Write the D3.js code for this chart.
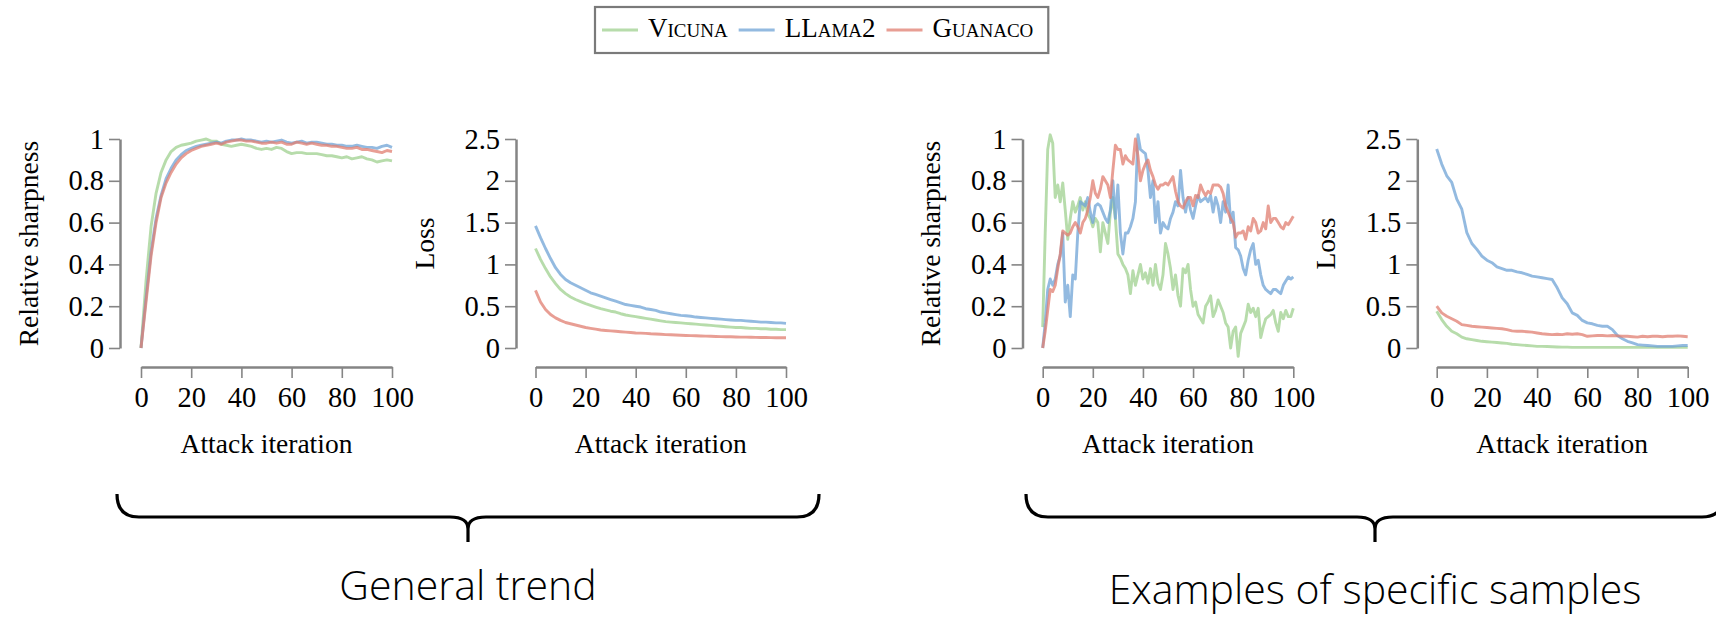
<!DOCTYPE html>
<html>
<head>
<meta charset="utf-8">
<script src="https://cdn.jsdelivr.net/npm/d3@7"></script>
<style>
  html, body { margin: 0; padding: 0; background: #fff; }
  svg { display: block; }
  .tick text { font-family: "Liberation Serif", "DejaVu Serif", serif; font-size: 28.5px; fill: #000; }
  .axis-title { font-family: "Liberation Serif", "DejaVu Serif", serif; font-size: 27.5px; fill: #000; }
  .legend-text { font-family: "Liberation Serif", "DejaVu Serif", serif; font-size: 27px; font-variant: small-caps; fill: #000; }
  .caption { font-family: "Open Sans", "Noto Sans", sans-serif; font-weight: 300; font-size: 41px; fill: #000; }
</style>
</head>
<body>
<svg id="chart" width="1716" height="619"></svg>
<script>
// ---- data ---------------------------------------------------------------
const iterEvery2 = d3.range(0, 101, 2);   // 0, 2, ..., 100
const iterEvery1 = d3.range(0, 101);      // 0, 1, ..., 100

const seriesNames = ["Vicuna", "LLama2", "Guanaco"];
const seriesColors = ["#9fd08f", "#6fa3d6", "#e07d70"];

const sharpTicks = [0, 0.2, 0.4, 0.6, 0.8, 1];
const lossTicks = [0, 0.5, 1, 1.5, 2, 2.5];
const iterTicks = [0, 20, 40, 60, 80, 100];

// General trend: relative sharpness (every 2 iterations)
const trendSharpVicuna = [0, 0.32, 0.58, 0.74, 0.84, 0.90, 0.94, 0.96, 0.97, 0.975, 0.98, 0.99, 0.995, 1.0, 0.99, 0.99,
  0.975, 0.97, 0.965, 0.97, 0.975, 0.97, 0.965, 0.955, 0.95, 0.955, 0.95, 0.96, 0.955, 0.94, 0.93, 0.935, 0.935, 0.93,
  0.93, 0.93, 0.925, 0.92, 0.92, 0.915, 0.91, 0.915, 0.905, 0.91, 0.915, 0.905, 0.90, 0.89, 0.895, 0.90, 0.895];
const trendSharpLlama = [0, 0.24, 0.46, 0.62, 0.73, 0.81, 0.86, 0.90, 0.925, 0.945, 0.955, 0.965, 0.97, 0.975, 0.98, 0.985,
  0.98, 0.99, 0.995, 0.995, 1.0, 0.995, 0.995, 0.99, 0.985, 0.99, 0.985, 0.99, 0.995, 0.985, 0.98, 0.985, 0.99, 0.98,
  0.985, 0.985, 0.98, 0.975, 0.975, 0.97, 0.97, 0.965, 0.965, 0.97, 0.965, 0.96, 0.96, 0.955, 0.965, 0.97, 0.96];
const trendSharpGuanaco = [0, 0.22, 0.44, 0.60, 0.72, 0.79, 0.84, 0.88, 0.91, 0.93, 0.945, 0.955, 0.965, 0.97, 0.975, 0.98,
  0.975, 0.985, 0.99, 0.995, 0.995, 0.99, 0.99, 0.985, 0.98, 0.98, 0.985, 0.98, 0.985, 0.975, 0.975, 0.985, 0.98, 0.975,
  0.98, 0.975, 0.97, 0.97, 0.965, 0.965, 0.96, 0.955, 0.955, 0.96, 0.95, 0.95, 0.945, 0.94, 0.935, 0.945, 0.94];

// General trend: loss (every 2 iterations)
const trendLossVicuna = [1.19, 1.06, 0.95, 0.85, 0.77, 0.70, 0.65, 0.61, 0.58, 0.555, 0.53, 0.51, 0.49, 0.47, 0.455, 0.44,
  0.43, 0.41, 0.395, 0.385, 0.375, 0.365, 0.355, 0.345, 0.335, 0.325, 0.315, 0.31, 0.305, 0.30, 0.295, 0.29, 0.285, 0.28,
  0.275, 0.27, 0.265, 0.26, 0.255, 0.25, 0.245, 0.245, 0.24, 0.235, 0.235, 0.23, 0.23, 0.225, 0.225, 0.22, 0.22];
const trendLossLlama = [1.46, 1.32, 1.19, 1.07, 0.96, 0.88, 0.82, 0.78, 0.75, 0.72, 0.69, 0.66, 0.64, 0.62, 0.60, 0.58,
  0.56, 0.54, 0.52, 0.51, 0.50, 0.49, 0.47, 0.46, 0.45, 0.43, 0.42, 0.41, 0.40, 0.39, 0.385, 0.38, 0.37, 0.365, 0.36,
  0.355, 0.35, 0.345, 0.34, 0.335, 0.33, 0.33, 0.325, 0.32, 0.315, 0.31, 0.31, 0.305, 0.30, 0.30, 0.295];
const trendLossGuanaco = [0.69, 0.55, 0.46, 0.40, 0.36, 0.33, 0.305, 0.29, 0.275, 0.26, 0.245, 0.235, 0.225, 0.215, 0.21,
  0.205, 0.20, 0.195, 0.19, 0.185, 0.18, 0.178, 0.175, 0.17, 0.168, 0.165, 0.16, 0.158, 0.155, 0.152, 0.15, 0.148, 0.146,
  0.144, 0.142, 0.14, 0.138, 0.136, 0.135, 0.134, 0.132, 0.13, 0.13, 0.128, 0.127, 0.126, 0.125, 0.124, 0.123, 0.122, 0.122];

// Specific samples: relative sharpness (every iteration)
const sampleSharpVicuna = [0.10, 0.55, 0.95, 1.02, 0.98, 0.72, 0.78, 0.70, 0.79, 0.66, 0.52, 0.62, 0.70, 0.65, 0.68, 0.72,
  0.66, 0.70, 0.64, 0.62, 0.58, 0.62, 0.60, 0.46, 0.60, 0.55, 0.50, 0.65, 0.72, 0.62, 0.45, 0.43, 0.40, 0.38, 0.35, 0.26,
  0.37, 0.30, 0.35, 0.40, 0.33, 0.36, 0.31, 0.38, 0.30, 0.40, 0.31, 0.28, 0.35, 0.50, 0.45, 0.38, 0.28, 0.35, 0.25, 0.20,
  0.38, 0.36, 0.40, 0.28, 0.20, 0.22, 0.16, 0.14, 0.12, 0.20, 0.22, 0.25, 0.15, 0.18, 0.23, 0.20, 0.17, 0.12, 0.10, 0.00,
  0.08, 0.10, -0.04, 0.07, 0.10, 0.13, 0.21, 0.17, 0.19, 0.15, 0.19, 0.05, 0.10, 0.14, 0.15, 0.16, 0.18, 0.12, 0.08, 0.17,
  0.14, 0.18, 0.15, 0.15, 0.19];
const sampleSharpLlama = [0.00, 0.12, 0.28, 0.33, 0.30, 0.33, 0.40, 0.44, 0.55, 0.22, 0.30, 0.15, 0.35, 0.33, 0.55, 0.70,
  0.69, 0.68, 0.72, 0.65, 0.60, 0.68, 0.69, 0.68, 0.65, 0.62, 0.60, 0.66, 0.80, 0.62, 0.78, 0.55, 0.45, 0.55, 0.55, 0.58,
  0.62, 0.70, 1.02, 0.95, 0.94, 0.93, 0.85, 0.72, 0.80, 0.60, 0.70, 0.55, 0.60, 0.58, 0.57, 0.62, 0.65, 0.70, 0.68, 0.85,
  0.72, 0.65, 0.72, 0.66, 0.62, 0.68, 0.73, 0.70, 0.71, 0.72, 0.70, 0.73, 0.65, 0.72, 0.68, 0.60, 0.70, 0.65, 0.78, 0.60,
  0.65, 0.48, 0.47, 0.44, 0.38, 0.35, 0.42, 0.47, 0.50, 0.40, 0.42, 0.35, 0.30, 0.28, 0.27, 0.26, 0.28, 0.28, 0.27, 0.26,
  0.30, 0.32, 0.34, 0.33, 0.34];
const sampleSharpGuanaco = [0.00, 0.08, 0.18, 0.28, 0.27, 0.30, 0.38, 0.45, 0.56, 0.55, 0.54, 0.55, 0.58, 0.60, 0.58, 0.55,
  0.60, 0.62, 0.66, 0.72, 0.80, 0.74, 0.72, 0.76, 0.82, 0.80, 0.78, 0.72, 0.85, 0.97, 0.95, 0.95, 0.88, 0.92, 0.90, 0.89,
  0.88, 1.00, 0.92, 0.80, 0.85, 0.88, 0.90, 0.85, 0.82, 0.78, 0.76, 0.78, 0.78, 0.79, 0.78, 0.80, 0.82, 0.75, 0.70, 0.68,
  0.67, 0.70, 0.72, 0.72, 0.68, 0.73, 0.72, 0.78, 0.75, 0.73, 0.75, 0.74, 0.78, 0.78, 0.78, 0.77, 0.74, 0.68, 0.65, 0.62,
  0.60, 0.53, 0.55, 0.55, 0.56, 0.52, 0.58, 0.56, 0.62, 0.60, 0.55, 0.56, 0.60, 0.57, 0.68, 0.60, 0.62, 0.62, 0.60, 0.58,
  0.57, 0.60, 0.59, 0.61, 0.63];

// Specific samples: loss (every 2 iterations)
const sampleLossVicuna = [0.44, 0.34, 0.26, 0.20, 0.17, 0.13, 0.11, 0.10, 0.09, 0.08, 0.075, 0.07, 0.065, 0.06, 0.055, 0.045,
  0.04, 0.035, 0.03, 0.025, 0.02, 0.02, 0.018, 0.015, 0.012, 0.01, 0.01, 0.008, 0.008, 0.008, 0.008, 0.008, 0.008, 0.008,
  0.008, 0.008, 0.008, 0.008, 0.008, 0.008, 0.008, 0.008, 0.008, 0.008, 0.008, 0.008, 0.008, 0.008, 0.008, 0.008, 0.008];
const sampleLossLlama = [2.38, 2.20, 2.06, 1.98, 1.78, 1.66, 1.38, 1.25, 1.18, 1.10, 1.05, 1.02, 0.97, 0.95, 0.93, 0.93,
  0.91, 0.90, 0.88, 0.86, 0.85, 0.84, 0.83, 0.82, 0.72, 0.60, 0.53, 0.42, 0.39, 0.33, 0.30, 0.29, 0.27, 0.26, 0.26, 0.22,
  0.15, 0.11, 0.08, 0.06, 0.04, 0.035, 0.03, 0.025, 0.02, 0.02, 0.02, 0.02, 0.025, 0.03, 0.03];
const sampleLossGuanaco = [0.50, 0.42, 0.38, 0.35, 0.32, 0.28, 0.27, 0.26, 0.255, 0.25, 0.245, 0.24, 0.235, 0.23, 0.22, 0.205,
  0.20, 0.20, 0.195, 0.19, 0.18, 0.17, 0.165, 0.16, 0.165, 0.16, 0.17, 0.165, 0.17, 0.16, 0.14, 0.145, 0.15, 0.15, 0.145,
  0.15, 0.145, 0.14, 0.14, 0.135, 0.13, 0.14, 0.135, 0.14, 0.14, 0.135, 0.14, 0.14, 0.145, 0.14, 0.135];

const captions = ["General trend", "Examples of specific samples"];

// ---- layout -------------------------------------------------------------
const svg = d3.select("#chart");
const plotTop = 139, plotBottom = 348, xAxisY = 367;

const panels = [
  { axisX: 120,    x0: 141,    x1: 392,    domain: [0, 1],   ticks: sharpTicks, title: "Relative sharpness",
    iters: iterEvery2, series: [trendSharpVicuna, trendSharpLlama, trendSharpGuanaco] },
  { axisX: 516,    x0: 535.5,  x1: 786,    domain: [0, 2.5], ticks: lossTicks,  title: "Loss",
    iters: iterEvery2, series: [trendLossVicuna, trendLossLlama, trendLossGuanaco] },
  { axisX: 1022.5, x0: 1042.7, x1: 1293.3, domain: [0, 1],   ticks: sharpTicks, title: "Relative sharpness",
    iters: iterEvery1, series: [sampleSharpVicuna, sampleSharpLlama, sampleSharpGuanaco] },
  { axisX: 1417.3, x0: 1436.7, x1: 1687.7, domain: [0, 2.5], ticks: lossTicks,  title: "Loss",
    iters: iterEvery2, series: [sampleLossVicuna, sampleLossLlama, sampleLossGuanaco] }
];

const axisColor = "#858585";

panels.forEach(p => {
  const x = d3.scaleLinear().domain([0, 100]).range([p.x0, p.x1]);
  const y = d3.scaleLinear().domain(p.domain).range([plotBottom, plotTop]);

  const gy = svg.append("g")
    .attr("transform", `translate(${p.axisX},0)`)
    .call(d3.axisLeft(y).tickValues(p.ticks).tickFormat(d => String(d))
      .tickSize(11).tickSizeOuter(0).tickPadding(5));
  const gx = svg.append("g")
    .attr("transform", `translate(0,${xAxisY})`)
    .call(d3.axisBottom(x).tickValues(iterTicks).tickFormat(d => String(d))
      .tickSize(11).tickSizeOuter(0).tickPadding(8));
  [gy, gx].forEach(g => {
    g.select(".domain").attr("stroke", axisColor).attr("stroke-width", 2.5);
    g.selectAll(".tick line").attr("stroke", axisColor).attr("stroke-width", 1.6);
    g.selectAll(".tick text").attr("font-size", null).attr("font-family", null);
  });
  gx.selectAll(".tick text").attr("dy", "0.72em");

  svg.append("text").attr("class", "axis-title")
    .attr("transform", `translate(${p.axisX - 92},${(plotTop + plotBottom) / 2}) rotate(-90)`)
    .attr("text-anchor", "middle").attr("dominant-baseline", "central")
    .text(p.title);
  svg.append("text").attr("class", "axis-title")
    .attr("x", (p.x0 + p.x1) / 2).attr("y", 453)
    .attr("text-anchor", "middle")
    .text("Attack iteration");

  const line = d3.line().x((d, i) => x(p.iters[i])).y(d => y(d));
  p.series.forEach((vals, k) => {
    svg.append("path")
      .datum(vals)
      .attr("d", line)
      .attr("fill", "none")
      .attr("stroke", seriesColors[k])
      .attr("stroke-opacity", 0.75)
      .attr("stroke-width", 2.9)
      .attr("stroke-linejoin", "round");
  });
});

// ---- legend -------------------------------------------------------------
const legend = svg.append("g");
const legendBox = legend.append("rect")
  .attr("fill", "#fff").attr("stroke", "#7a7a7a").attr("stroke-width", 2.2);
let lx = 602;
seriesNames.forEach((name, k) => {
  legend.append("line")
    .attr("x1", lx).attr("x2", lx + 36).attr("y1", 30).attr("y2", 30)
    .attr("stroke", seriesColors[k]).attr("stroke-opacity", 0.75).attr("stroke-width", 2.9);
  const t = legend.append("text").attr("class", "legend-text")
    .attr("x", lx + 46).attr("y", 37).text(name);
  lx += 46 + t.node().getComputedTextLength() + 11;
});
legendBox.attr("x", 595).attr("y", 7).attr("width", lx - 11 + 15 - 595).attr("height", 46);

// ---- braces and captions -----------------------------------------------
function bracePath(x0, x1, top, mid, tip) {
  const xm = (x0 + x1) / 2, r = 22;
  return `M${x0},${top} Q${x0},${mid} ${x0 + r},${mid} L${xm - 18},${mid} ` +
         `C${xm - 6},${mid} ${xm},${mid + 4} ${xm},${mid + 12} L${xm},${tip} ` +
         `M${xm},${mid + 12} C${xm},${mid + 4} ${xm + 6},${mid} ${xm + 18},${mid} ` +
         `L${x1 - r},${mid} Q${x1},${mid} ${x1},${top}`;
}
const braces = [[117, 819], [1026, 1724]];
braces.forEach(([a, b], i) => {
  svg.append("path").attr("d", bracePath(a, b, 494, 517, 542))
    .attr("fill", "none").attr("stroke", "#000").attr("stroke-width", 3.2)
    .attr("stroke-linejoin", "round");
  svg.append("text").attr("class", "caption")
    .attr("x", (a + b) / 2).attr("y", i === 0 ? 600 : 604)
    .attr("text-anchor", "middle").text(captions[i]);
});
</script>
</body>
</html>
